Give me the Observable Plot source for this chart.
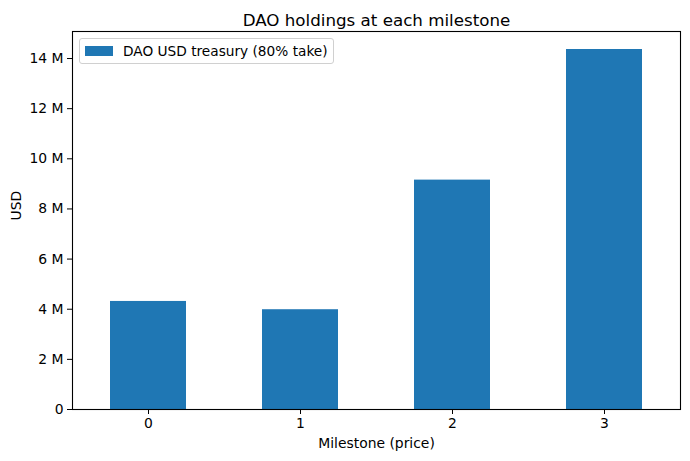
<!DOCTYPE html>
<html>
<head>
<meta charset="utf-8">
<script src="https://cdn.jsdelivr.net/npm/d3@7"></script>
<script src="https://cdn.jsdelivr.net/npm/@observablehq/plot@0.6"></script>
<style>
  html, body { margin: 0; padding: 0; background: #fff; }
  #wrap { position: relative; width: 690px; height: 461px; font-family: "DejaVu Sans", sans-serif; }
  #legend { position: absolute; left: 79px; top: 38px; height: 26px; padding: 0 5px 0 5px; box-sizing: border-box;
            border: 1px solid #d0d0d0; border-radius: 3px; background: rgba(255,255,255,0.8);
            display: flex; align-items: center; font-size: 13.7px; color: #000; }
  #legend .sw { width: 28px; height: 10px; background: #1f77b4; margin-right: 10px; }
</style>
</head>
<body>
<div id="wrap">
  <div id="chart"></div>
  <div id="legend"><div class="sw"></div><span>DAO USD treasury (80% take)</span></div>
</div>
<script>
const milestones = ["0", "1", "2", "3"];
const treasuryUSD = [4.31e6, 3.98e6, 9.15e6, 14.36e6];
const yTicks = [0, 2e6, 4e6, 6e6, 8e6, 10e6, 12e6, 14e6];
const titleText = "DAO holdings at each milestone";
const xLabel = "Milestone (price)";
const yLabel = "USD";

const data = milestones.map((m, i) => ({milestone: m, value: treasuryUSD[i]}));
const fmt = d => d === 0 ? "0" : (d / 1e6) + " M";

const chart = Plot.plot({
  width: 690,
  height: 461,
  marginLeft: 72,
  marginRight: 10,
  marginTop: 31,
  marginBottom: 52,
  style: {fontFamily: "DejaVu Sans, sans-serif", fontSize: "13.9px", color: "#000", background: "#fff"},
  x: {domain: milestones, paddingInner: 0.5, paddingOuter: 0.25, align: 0.5, label: null},
  y: {domain: [0, 14.36e6 * 1.05], label: null},
  marks: [
    Plot.barY(data, {x: "milestone", y: "value", fill: "#1f77b4"}),
    Plot.axisY({ticks: yTicks, tickFormat: fmt, tickSize: 5, tickPadding: 4, label: null, stroke: "#000", fontSize: 13.9}),
    Plot.axisX({tickSize: 5, tickPadding: 4, label: null, stroke: "#000", fontSize: 13.9}),
    Plot.frame({stroke: "#000", strokeWidth: 1.1}),
    Plot.text([yLabel], {frameAnchor: "left", rotate: -90, dx: -56, fontSize: 13.9}),
    Plot.text([xLabel], {frameAnchor: "bottom", dy: 38, fontSize: 13.9}),
    Plot.text([titleText], {frameAnchor: "top", dy: -17, fontSize: 16.7})
  ]
});
document.getElementById("chart").appendChild(chart);
</script>
</body>
</html>
